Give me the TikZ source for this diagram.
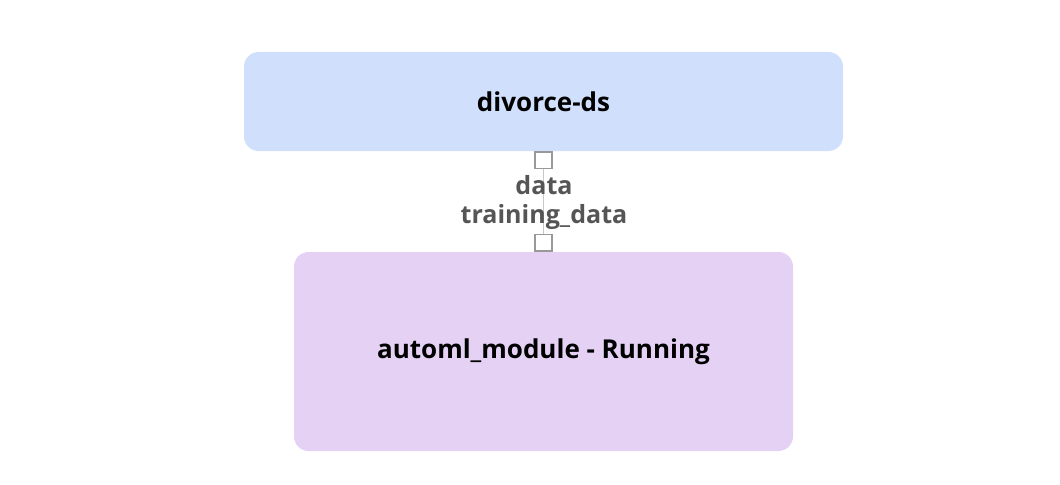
\documentclass[tikz,border=0pt]{standalone}
\usepackage{fontspec}
\setmainfont{Open Sans}
\usetikzlibrary{positioning}
\definecolor{dsblue}{HTML}{CFDFFC}
\definecolor{modpurple}{HTML}{E4D1F4}
\definecolor{portgray}{HTML}{999999}
\definecolor{edgegray}{HTML}{C8C8C8}
\definecolor{labelgray}{HTML}{555555}
\tikzset{
  stepnode/.style={
    rounded corners=11pt, inner sep=0pt, text=black,
    font=\bfseries\fontsize{19.5}{23}\selectfont
  },
  dsnode/.style={stepnode, fill=dsblue,
    minimum width=449.25pt, minimum height=74.25pt},
  modnode/.style={stepnode, fill=modpurple,
    minimum width=374.25pt, minimum height=149.25pt},
  port/.style={draw=portgray, fill=white, line width=1.1pt,
    minimum size=12.5pt, inner sep=0pt},
  portlink/.style={edgegray, line width=1.1pt},
  portlabel/.style={text=labelgray, inner sep=0pt,
    font=\bfseries\fontsize{18.8}{22}\selectfont}
}

\begin{document}
\begin{tikzpicture}[x=0.75pt, y=-0.75pt]
  \useasboundingbox (0,0) rectangle (1060,485);
  \node[dsnode] (ds) at (543.5,101.5) {divorce-ds};
  \node[modnode] (mod) at (543.5,351.5) {automl\_module - Running};
  % ports on the link
  \node[port, below=0pt of ds.south] (outport) {};
  \node[port, above=0pt of mod.north] (inport) {};
  \draw[portlink] (outport) -- (inport);
  \node[portlabel] (outname) at (544,185) {data};
  \node[portlabel] (inname) at (544,217) {training\_data};
\end{tikzpicture}
\end{document}
